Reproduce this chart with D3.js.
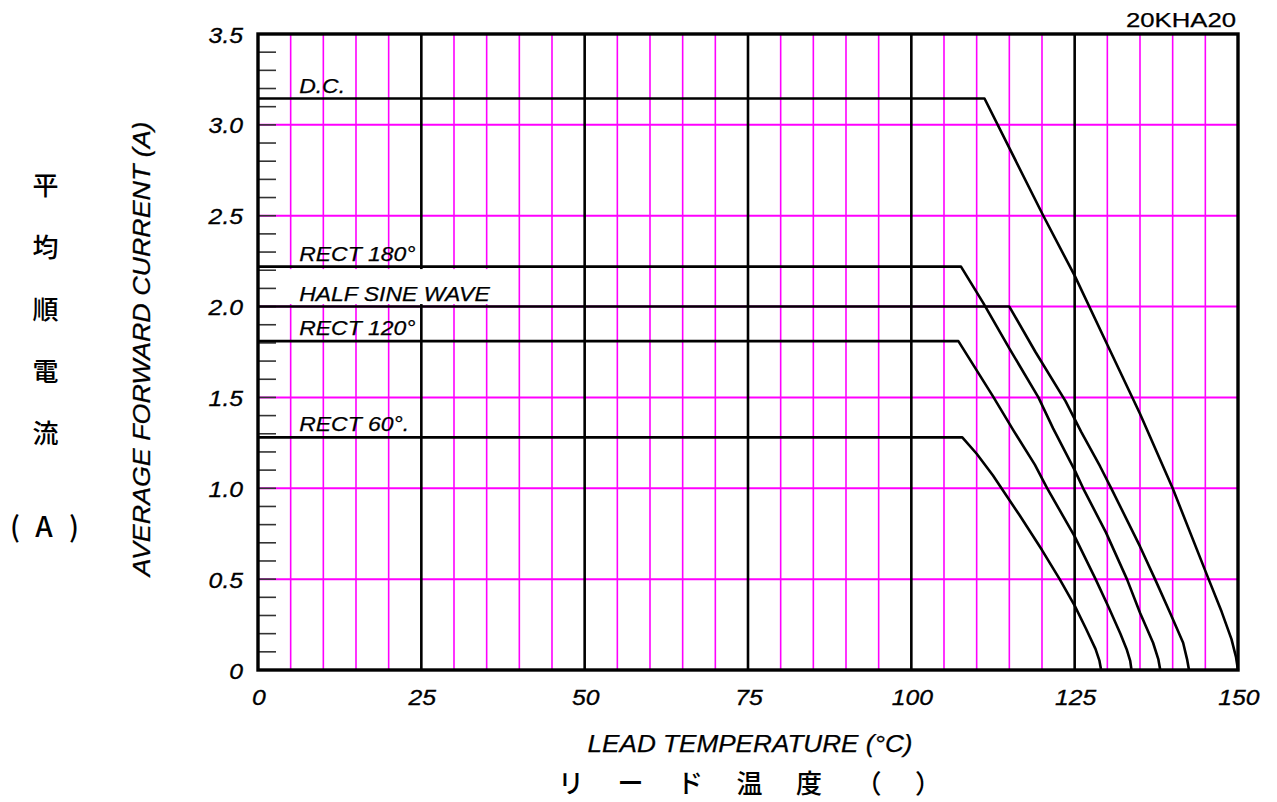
<!DOCTYPE html>
<html>
<head>
<meta charset="utf-8">
<script src="https://cdn.jsdelivr.net/npm/d3@7/dist/d3.min.js"></script>
<style>
  html, body { margin: 0; padding: 0; background: #ffffff; }
  svg { display: block; }
</style>
</head>
<body>
<script>
// Part number and axis ticks
const partNumber = "20KHA20";
const xTickValues = [0, 25, 50, 75, 100, 125, 150];
const xTickLabels = ["0", "25", "50", "75", "100", "125", "150"];
const yTickValues = [0, 0.5, 1.0, 1.5, 2.0, 2.5, 3.0, 3.5];
const yTickLabels = ["0", "0.5", "1.0", "1.5", "2.0", "2.5", "3.0", "3.5"];

// Derating curves: lead temperature (°C) vs average forward current (A)
const seriesNames = ["D.C.", "RECT 180°", "HALF SINE WAVE", "RECT 120°", "RECT 60°."];

const dcTemp    = [0, 111.2, 120.2, 125.0, 130.0, 135.0, 140.0, 145.5, 147.5, 149.0, 149.7, 150.0];
const dcCurrent = [3.145, 3.145, 2.50, 2.17, 1.79, 1.41, 1.00, 0.50, 0.32, 0.17, 0.07, 0];

const rect180Temp    = [0, 107.6, 111.0, 115.0, 119.45, 121.7, 125.0, 126.3, 129.8, 133.0, 135.0, 137.0, 137.8, 138.1];
const rect180Current = [2.22, 2.22, 2.02, 1.77, 1.50, 1.33, 1.10, 1.00, 0.756, 0.50, 0.315, 0.15, 0.06, 0];

const halfSineTemp    = [0, 115.0, 119.0, 123.6, 126.0, 128.9, 130.6, 135.0, 137.3, 139.6, 141.6, 142.2, 142.5];
const halfSineCurrent = [2.0, 2.0, 1.75, 1.48, 1.31, 1.12, 1.00, 0.68, 0.50, 0.315, 0.15, 0.06, 0];

const rect120Temp    = [0, 107.2, 112.5, 115.6, 118.9, 120.8, 125.0, 128.2, 130.2, 132.0, 133.0, 133.5, 133.7];
const rect120Current = [1.81, 1.81, 1.506, 1.32, 1.13, 1.00, 0.735, 0.50, 0.345, 0.20, 0.11, 0.05, 0];

const rect60Temp    = [0, 107.8, 110.0, 112.5, 113.8, 116.6, 120.0, 122.7, 125.0, 126.7, 128.2, 128.8, 129.05];
const rect60Current = [1.28, 1.28, 1.19, 1.07, 1.00, 0.85, 0.66, 0.50, 0.354, 0.23, 0.115, 0.05, 0];

const seriesTemps = [dcTemp, rect180Temp, halfSineTemp, rect120Temp, rect60Temp];
const seriesCurrents = [dcCurrent, rect180Current, halfSineCurrent, rect120Current, rect60Current];

// Axis titles
const xTitle = "LEAD TEMPERATURE (°C)";
const yTitle = "AVERAGE FORWARD CURRENT (A)";
const xTitleJa = ["リ", "ー", "ド", "温", "度", "（", "）"];
const yTitleJa = ["平", "均", "順", "電", "流"];
const yUnitJa = ["(", "A", ")"];

// ---- drawing ----
const W = 1277, H = 802;
const svg = d3.select("body").append("svg").attr("width", W).attr("height", H);

const x = d3.scaleLinear().domain([0, 150]).range([258, 1238]);
const y = d3.scaleLinear().domain([0, 3.5]).range([670, 34]);

const LATIN = "'Liberation Sans', Arial, Helvetica, sans-serif";
const CJK = "'Noto Sans CJK JP', 'Noto Sans CJK SC', sans-serif";
const MAGENTA = "#ff00ff";

// stretch text horizontally to the wider face used on the sheet
function widen(sel, k) {
  sel.each(function () {
    const n = this.getComputedTextLength();
    d3.select(this).attr("textLength", n * k).attr("lengthAdjust", "spacingAndGlyphs");
  });
}

// Magenta minor grid: verticals every 5 °C, horizontals every 0.5 A
const minorX = d3.range(5, 150, 5).filter(t => t % 25 !== 0);
svg.append("g").selectAll("line").data(minorX).join("line")
  .attr("x1", d => x(d)).attr("x2", d => x(d))
  .attr("y1", y(3.5)).attr("y2", y(0))
  .attr("stroke", MAGENTA).attr("stroke-width", 1.6);

svg.append("g").selectAll("line").data(yTickValues.filter(v => v > 0 && v < 3.5)).join("line")
  .attr("x1", x(0)).attr("x2", x(150))
  .attr("y1", d => y(d)).attr("y2", d => y(d))
  .attr("stroke", MAGENTA).attr("stroke-width", 2);

// Black major verticals every 25 °C
svg.append("g").selectAll("line").data(xTickValues.filter(v => v > 0 && v < 150)).join("line")
  .attr("x1", d => x(d)).attr("x2", d => x(d))
  .attr("y1", y(3.5)).attr("y2", y(0))
  .attr("stroke", "#000").attr("stroke-width", 2.6);

// Inner minor ticks on the current axis every 0.1 A
const minorY = d3.range(1, 35).map(i => i / 10);
svg.append("g").selectAll("line").data(minorY).join("line")
  .attr("x1", x(0)).attr("x2", x(0) + 18)
  .attr("y1", d => y(d)).attr("y2", d => y(d))
  .attr("stroke", "#333").attr("stroke-width", 1.6);

// Curves
const line = d3.line().x(d => x(d[0])).y(d => y(d[1])).curve(d3.curveLinear);
seriesNames.forEach((name, i) => {
  const pts = seriesTemps[i].map((t, j) => [t, seriesCurrents[i][j]]);
  svg.append("path").datum(pts)
    .attr("d", line)
    .attr("fill", "none").attr("stroke", "#000")
    .attr("stroke-width", 2.6).attr("stroke-linejoin", "round");
});

// Curve labels, sitting just above each flat segment
const labelG = svg.append("g");
seriesNames.forEach((name, i) => {
  const level = seriesCurrents[i][0];
  const ty = y(level) - 6;
  if (name === "HALF SINE WAVE") {
    labelG.append("rect")
      .attr("x", 283).attr("y", y(seriesCurrents[1][0]) + 2.5)
      .attr("width", 208).attr("height", y(level) - y(seriesCurrents[1][0]) - 5)
      .attr("fill", "#fff");
  }
  labelG.append("text")
    .attr("x", x(6.3)).attr("y", ty)
    .attr("font-family", LATIN).attr("font-style", "italic")
    .attr("font-size", 20.5).attr("fill", "#000")
    .attr("stroke", "#000").attr("stroke-width", 0.25)
    .text(name)
    .call(widen, 1.12);
});

// Frame
svg.append("rect")
  .attr("x", x(0)).attr("y", y(3.5))
  .attr("width", x(150) - x(0)).attr("height", y(0) - y(3.5))
  .attr("fill", "none").attr("stroke", "#000").attr("stroke-width", 3.4);

// Tick labels
svg.append("g").selectAll("text").data(yTickValues).join("text")
  .attr("x", 243).attr("y", d => y(d) + 8.5)
  .attr("text-anchor", "end")
  .attr("font-family", LATIN).attr("font-style", "italic").attr("font-size", 21.5)
  .attr("stroke", "#000").attr("stroke-width", 0.3)
  .text((d, i) => yTickLabels[i])
  .call(widen, 1.15);

svg.append("g").selectAll("text").data(xTickValues).join("text")
  .attr("x", d => x(d) + 1).attr("y", 705)
  .attr("text-anchor", "middle")
  .attr("font-family", LATIN).attr("font-style", "italic").attr("font-size", 21.5)
  .attr("stroke", "#000").attr("stroke-width", 0.3)
  .text((d, i) => xTickLabels[i])
  .call(widen, 1.15);

// Part number
svg.append("text")
  .attr("x", 1236).attr("y", 27).attr("text-anchor", "end")
  .attr("font-family", LATIN).attr("font-size", 20)
  .attr("stroke", "#000").attr("stroke-width", 0.25)
  .text(partNumber)
  .attr("textLength", 110).attr("lengthAdjust", "spacingAndGlyphs");

// Axis titles (English)
svg.append("text")
  .attr("x", 750).attr("y", 752).attr("text-anchor", "middle")
  .attr("font-family", LATIN).attr("font-style", "italic").attr("font-size", 23)
  .attr("stroke", "#000").attr("stroke-width", 0.25)
  .text(xTitle)
  .attr("textLength", 325).attr("lengthAdjust", "spacingAndGlyphs");

svg.append("text")
  .attr("transform", "translate(150,349) rotate(-90)")
  .attr("text-anchor", "middle")
  .attr("font-family", LATIN).attr("font-style", "italic").attr("font-size", 23)
  .attr("stroke", "#000").attr("stroke-width", 0.25)
  .text(yTitle)
  .attr("textLength", 455).attr("lengthAdjust", "spacingAndGlyphs");

// Axis titles (Japanese)
svg.append("g").selectAll("text").data(xTitleJa).join("text")
  .attr("x", (d, i) => 571 + i * 59.5).attr("y", 781)
  .attr("text-anchor", "middle").attr("dominant-baseline", "central")
  .attr("font-family", CJK).attr("font-size", 26).attr("font-weight", 500)
  .text(d => d);

svg.append("g").selectAll("text").data(yTitleJa).join("text")
  .attr("x", 45.5).attr("y", (d, i) => 183 + i * 62)
  .attr("text-anchor", "middle").attr("dominant-baseline", "central")
  .attr("font-family", CJK).attr("font-size", 26).attr("font-weight", 500)
  .text(d => d);

svg.append("g").selectAll("text").data(yUnitJa).join("text")
  .attr("x", (d, i) => [15, 44, 74][i]).attr("y", 525)
  .attr("text-anchor", "middle").attr("dominant-baseline", "central")
  .attr("font-family", CJK).attr("font-size", 28).attr("font-weight", 500)
  .text(d => d);
</script>
</body>
</html>
